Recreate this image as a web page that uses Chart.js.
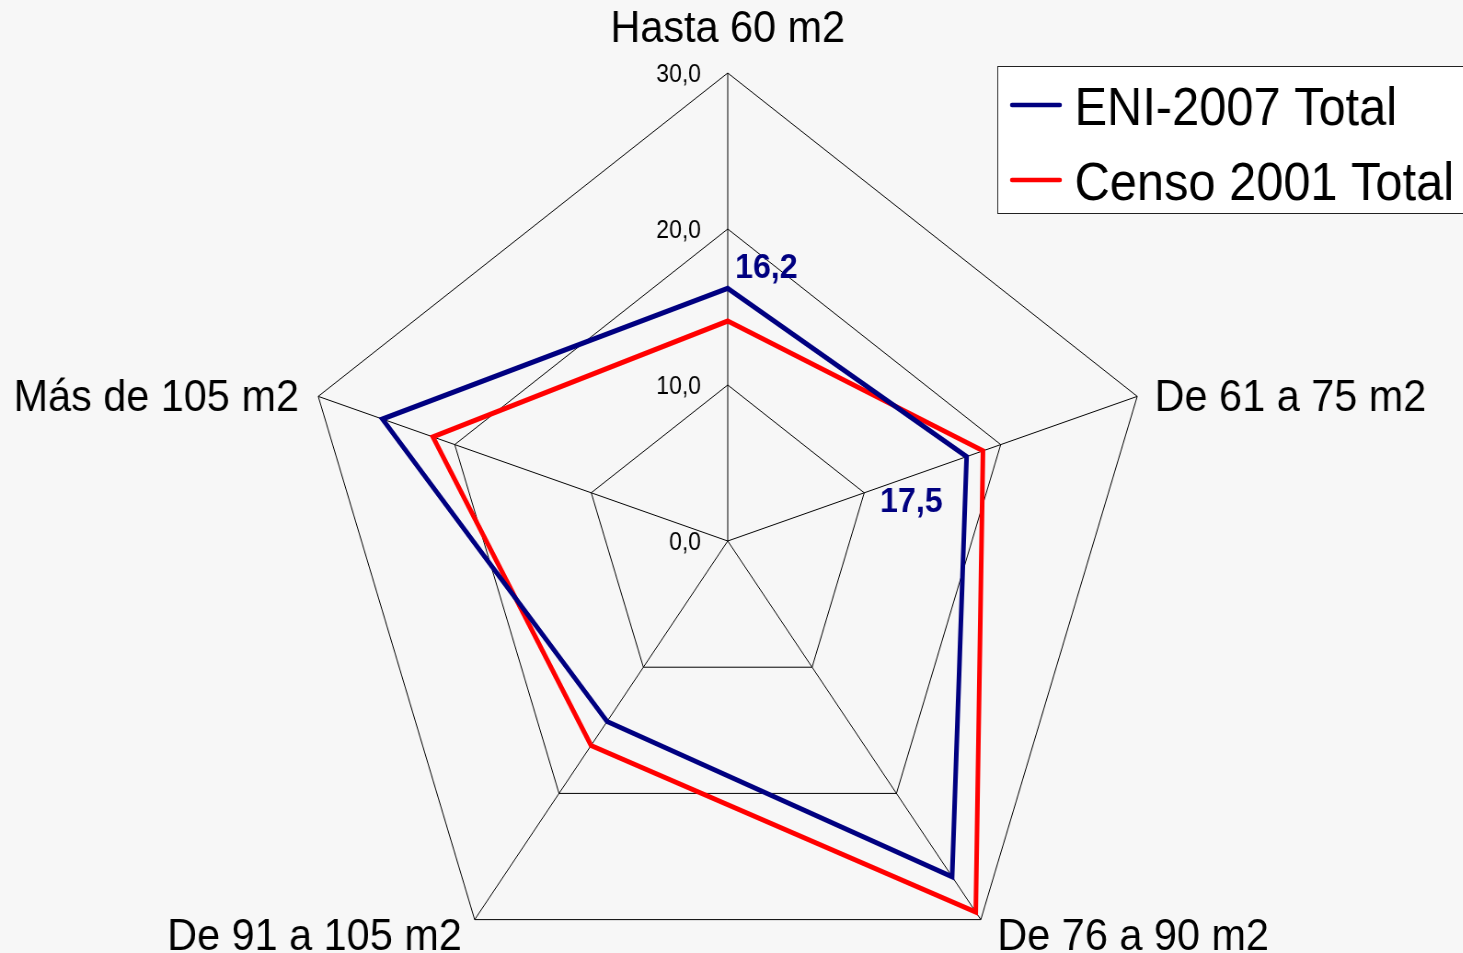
<!DOCTYPE html>
<html lang="es">
<head>
<meta charset="utf-8">
<title>ENI-2007 / Censo 2001</title>
<script src="https://cdn.jsdelivr.net/npm/chart.js@4.4.1/dist/chart.umd.min.js"></script>
<style>
  html, body { margin: 0; padding: 0; background: #f7f7f7; overflow: hidden; }
  /* el gráfico original está algo comprimido en horizontal */
  #wrap { position: absolute; left: 0; top: 0; width: 1590px; height: 1020px; transform: scaleX(0.92); transform-origin: 0 0; }
</style>
</head>
<body>
<div id="wrap"><canvas id="radar" width="1590" height="1020"></canvas></div>
<script>
// ---------------------- DATOS ----------------------
const categorias = ["Hasta 60 m2", "De 61 a 75 m2", "De 76 a 90 m2", "De 91 a 105 m2", "Más de 105 m2"];
const eni2007 = [16.2, 17.5, 26.6, 14.3, 25.3];
const censo2001 = [14.1, 18.7, 29.4, 16.2, 21.6];
const escalaMin = 0;
const escalaMax = 30;
const escalaPaso = 10;

const FUENTE = "'Liberation Sans', Arial, sans-serif";
const fmt = (v) => v.toFixed(1).replace(".", ",");

// posición de cada etiqueta de categoría respecto al vértice exterior
const posCategorias = [
  { align: "center", dx: 0, dy: -31 },
  { align: "left", dx: 19, dy: 15 },
  { align: "left", dx: 18, dy: 30 },
  { align: "right", dx: -14, dy: 30 },
  { align: "right", dx: -21, dy: 15 },
];

// etiquetas de datos que aparecen en el original (solo ENI-2007)
const etiquetasDatos = [
  { serie: 0, indice: 0, dx: 42, dy: -10 },
  { serie: 0, indice: 1, dx: -60, dy: 55 },
];

// ---------------------- PLUGIN DE TEXTOS ----------------------
const textosPlugin = {
  id: "textos",
  afterDraw(chart) {
    const ctx = chart.ctx;
    const r = chart.scales.r;
    ctx.save();
    ctx.fillStyle = "#000";
    ctx.textBaseline = "alphabetic";

    // ticks del eje
    ctx.font = `25px ${FUENTE}`;
    ctx.textAlign = "right";
    r.ticks.forEach((t) => {
      const p = r.getPointPositionForValue(0, t.value);
      ctx.fillText(fmt(t.value), p.x - 29, p.y + 9);
    });

    // categorías
    ctx.font = `45px ${FUENTE}`;
    categorias.forEach((c, i) => {
      const p = r.getPointPositionForValue(i, escalaMax);
      const pos = posCategorias[i];
      ctx.textAlign = pos.align;
      ctx.fillText(c, p.x + pos.dx, p.y + pos.dy);
    });

    // etiquetas de datos
    ctx.font = `bold 35px ${FUENTE}`;
    ctx.textAlign = "center";
    etiquetasDatos.forEach((e) => {
      const ds = chart.data.datasets[e.serie];
      const v = ds.data[e.indice];
      const p = r.getPointPositionForValue(e.indice, v);
      ctx.fillStyle = ds.borderColor;
      ctx.fillText(fmt(v), p.x + e.dx, p.y + e.dy);
    });

    // leyenda con recuadro
    ctx.fillStyle = "#ffffff";
    ctx.fillRect(1084, 66, 520, 147);
    ctx.strokeStyle = "#222";
    ctx.lineWidth = 1;
    ctx.strokeRect(1084.5, 66.5, 520, 147);
    ctx.font = `53px ${FUENTE}`;
    ctx.textAlign = "left";
    chart.data.datasets.forEach((ds, i) => {
      const y = 105 + i * 75;
      ctx.strokeStyle = ds.borderColor;
      ctx.lineWidth = 4.5;
      ctx.lineCap = "round";
      ctx.beginPath();
      ctx.moveTo(1100, y);
      ctx.lineTo(1152, y);
      ctx.stroke();
      ctx.fillStyle = "#000";
      ctx.fillText(ds.label, 1168, y + 20);
    });
    ctx.restore();
  },
};

// ---------------------- GRÁFICO ----------------------
new Chart(document.getElementById("radar"), {
  type: "radar",
  data: {
    labels: categorias,
    datasets: [
      {
        label: "ENI-2007 Total",
        data: eni2007,
        borderColor: "#000080",
        borderWidth: 5,
        borderJoinStyle: "miter",
        fill: false,
        pointRadius: 0,
        tension: 0,
      },
      {
        label: "Censo 2001 Total",
        data: censo2001,
        borderColor: "#ff0000",
        borderWidth: 5,
        borderJoinStyle: "miter",
        fill: false,
        pointRadius: 0,
        tension: 0,
      },
    ],
  },
  options: {
    responsive: false,
    animation: false,
    layout: { padding: { top: 73, bottom: 11, left: 300, right: 308 } },
    plugins: {
      legend: { display: false },
      tooltip: { enabled: false },
    },
    scales: {
      r: {
        min: escalaMin,
        max: escalaMax,
        ticks: { stepSize: escalaPaso, display: false },
        grid: { color: "#000", lineWidth: 1 },
        angleLines: { color: "#000", lineWidth: 1 },
        pointLabels: { display: false },
      },
    },
  },
  plugins: [textosPlugin],
});
</script>
</body>
</html>
